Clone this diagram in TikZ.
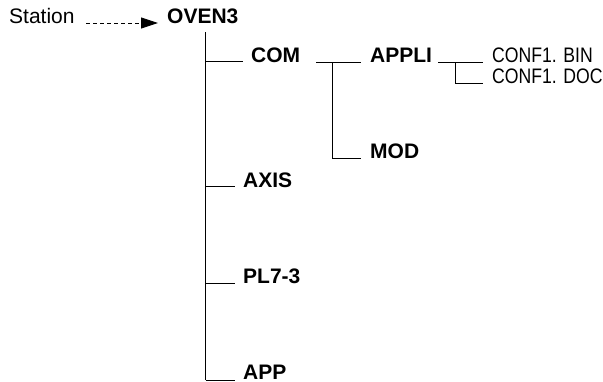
\documentclass[tikz,border=0pt]{standalone}
\usepackage{fontspec}
\setmainfont{Liberation Sans}
\newfontfamily\narrowfont[FakeStretch=0.84]{Liberation Sans}
\usetikzlibrary{arrows.meta}
\begin{document}
\begin{tikzpicture}[x=1pt,y=-1pt,
  lbl/.style={anchor=base west,inner sep=0pt,font=\fontsize{21}{21}\selectfont},
  blbl/.style={lbl,font=\fontsize{21}{21}\selectfont\bfseries},
  nlbl/.style={lbl,font=\fontsize{21}{21}\selectfont\narrowfont},
  tree/.style={line width=1pt},
  ptr/.style={line width=0.9pt,dash pattern=on 4pt off 3pt,-{Triangle[length=17pt,width=11pt]}}]
\useasboundingbox (0,0) rectangle (603,381);
% labels
\node[lbl]  (station) at (9,23)   {Station};
\node[blbl] (oven)    at (167,23) {OVEN3};
\node[blbl] (com)     at (251,62) {COM};
\node[blbl] (appli)   at (370,62) {APPLI};
\node[blbl] (mod)     at (370,158){MOD};
\node[nlbl] (bin)     at (492,62) {CONF1. BIN};
\node[nlbl] (doc)     at (492,83) {CONF1. DOC};
\node[blbl] (axis)    at (243,187){AXIS};
\node[blbl] (pl)      at (243,283){PL7-3};
\node[blbl] (app)     at (243,379.5){APP};
% connector points
\coordinate (st) at (86,23);
\coordinate (ov) at (158,23);
\coordinate (trTop) at (205.5,32);
\coordinate (trBot) at (205.5,380);
\coordinate (comL) at (205.5,61);
\coordinate (comR) at (243,61);
\coordinate (appliL) at (316,62);
\coordinate (appliR) at (361,62);
\coordinate (modV) at (332,62);
\coordinate (modR) at (361,158);
\coordinate (binL) at (438,62);
\coordinate (binR) at (483,62);
\coordinate (docV) at (455,62);
\coordinate (docR) at (483,83);
\coordinate (axisL) at (205.5,186);
\coordinate (axisR) at (235,186);
\coordinate (plL) at (205.5,283);
\coordinate (plR) at (235,283);
\coordinate (appL) at (205.5,380);
\coordinate (appR) at (235,380);
% connectors
\draw[ptr] (st) -- (ov);
\draw[tree] (trTop) -- (trBot);
\draw[tree] (comL) -- (comR);
\draw[tree] (appliL) -- (appliR);
\draw[tree] (modV) |- (modR);
\draw[tree] (binL) -- (binR);
\draw[tree] (docV) |- (docR);
\draw[tree] (axisL) -- (axisR);
\draw[tree] (plL) -- (plR);
\draw[tree] (appL) -- (appR);
\end{tikzpicture}
\end{document}
